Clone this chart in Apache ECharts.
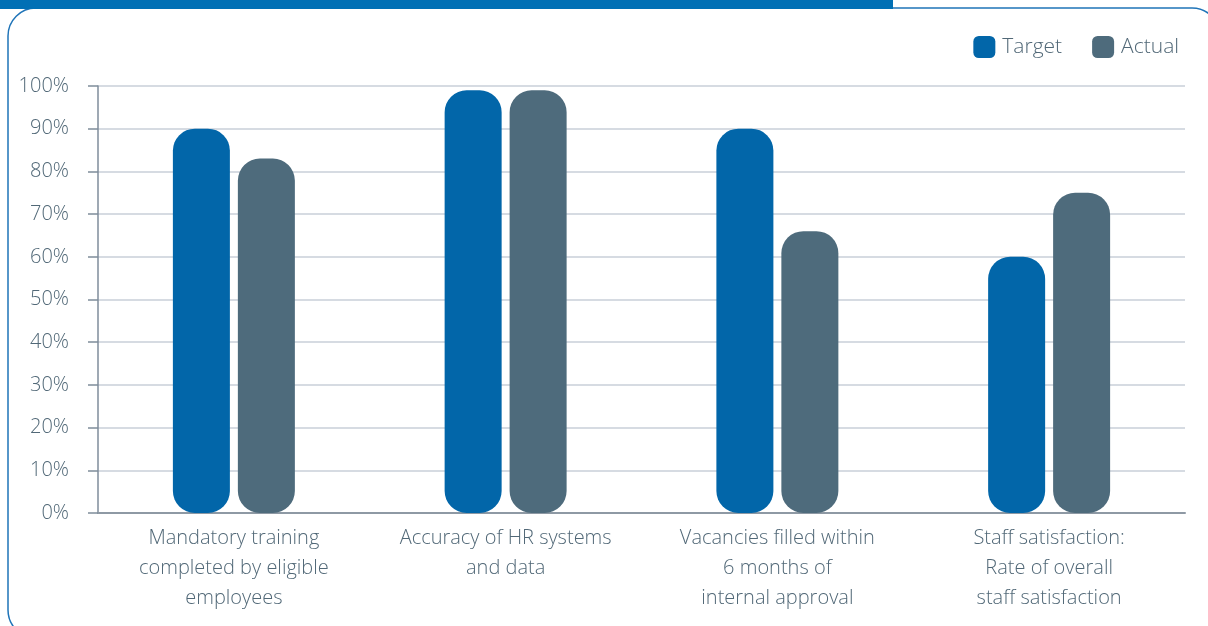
<!DOCTYPE html>
<html><head><meta charset="utf-8">
<style>html,body{margin:0;padding:0;background:#fff}#c{width:1208px;height:626px}</style>
<script src="https://cdn.jsdelivr.net/npm/echarts@6/dist/echarts.min.js"></script>
</head><body><div id="c"></div>
<script>
const categories = ["Mandatory training\ncompleted by eligible\nemployees", "Accuracy of HR systems\nand data", "Vacancies filled within\n6 months of\ninternal approval", "Staff satisfaction:\nRate of overall\nstaff satisfaction"];
const target = [90, 99, 90, 60];
const actual = [83, 99, 66, 75];
const yTicks = [0, 10, 20, 30, 40, 50, 60, 70, 80, 90, 100];

const chart = echarts.init(document.getElementById('c'));
const font = "'Open Sans', sans-serif";
const txt = '#516877';
chart.setOption({
  animation: false,
  textStyle: {fontFamily: font},
  graphic: [
    {type: 'rect', shape: {x: 8, y: 8, width: 1212, height: 630, r: 28}, style: {fill: 'none', stroke: '#1f74b8', lineWidth: 1.5}, z: 0},
    {type: 'rect', shape: {x: 0, y: 0, width: 893, height: 9}, style: {fill: '#0170b5'}, z: 1}
  ],
  legend: {
    right: 24, top: 31, itemWidth: 22, itemHeight: 22, itemGap: 30,
    icon: 'roundRect',
    textStyle: {fontFamily: font, fontWeight: 300, fontSize: 21, color: txt, padding: [0, 0, 0, 2]},
    data: ['Target', 'Actual']
  },
  grid: {left: 98, right: 23, top: 86, bottom: 113, containLabel: false},
  xAxis: {
    type: 'category', data: categories,
    axisLine: {lineStyle: {color: '#8e99a4', width: 2}},
    axisTick: {show: false},
    axisLabel: {fontFamily: font, fontWeight: 300, fontSize: 20, color: txt, lineHeight: 30, margin: 10, interval: 0}
  },
  yAxis: {
    type: 'value', min: 0, max: 100, interval: 10,
    axisLine: {show: true, lineStyle: {color: '#7f8d9b', width: 1.5}},
    axisTick: {show: true, length: 10, lineStyle: {color: '#7f8d9b', width: 1.5}},
    splitLine: {lineStyle: {color: '#c9cfd9', width: 1.5}},
    axisLabel: {fontFamily: font, fontWeight: 300, fontSize: 20, color: txt, margin: 29,
      formatter: v => yTicks.includes(v) ? v + '%' : ''}
  },
  series: [
    {name: 'Target', type: 'bar', data: target, barWidth: 57, barGap: '14%',
     itemStyle: {color: '#0266a9', borderRadius: 22}},
    {name: 'Actual', type: 'bar', data: actual, barWidth: 57,
     itemStyle: {color: '#4e6b7c', borderRadius: 22}}
  ]
});
</script></body></html>
